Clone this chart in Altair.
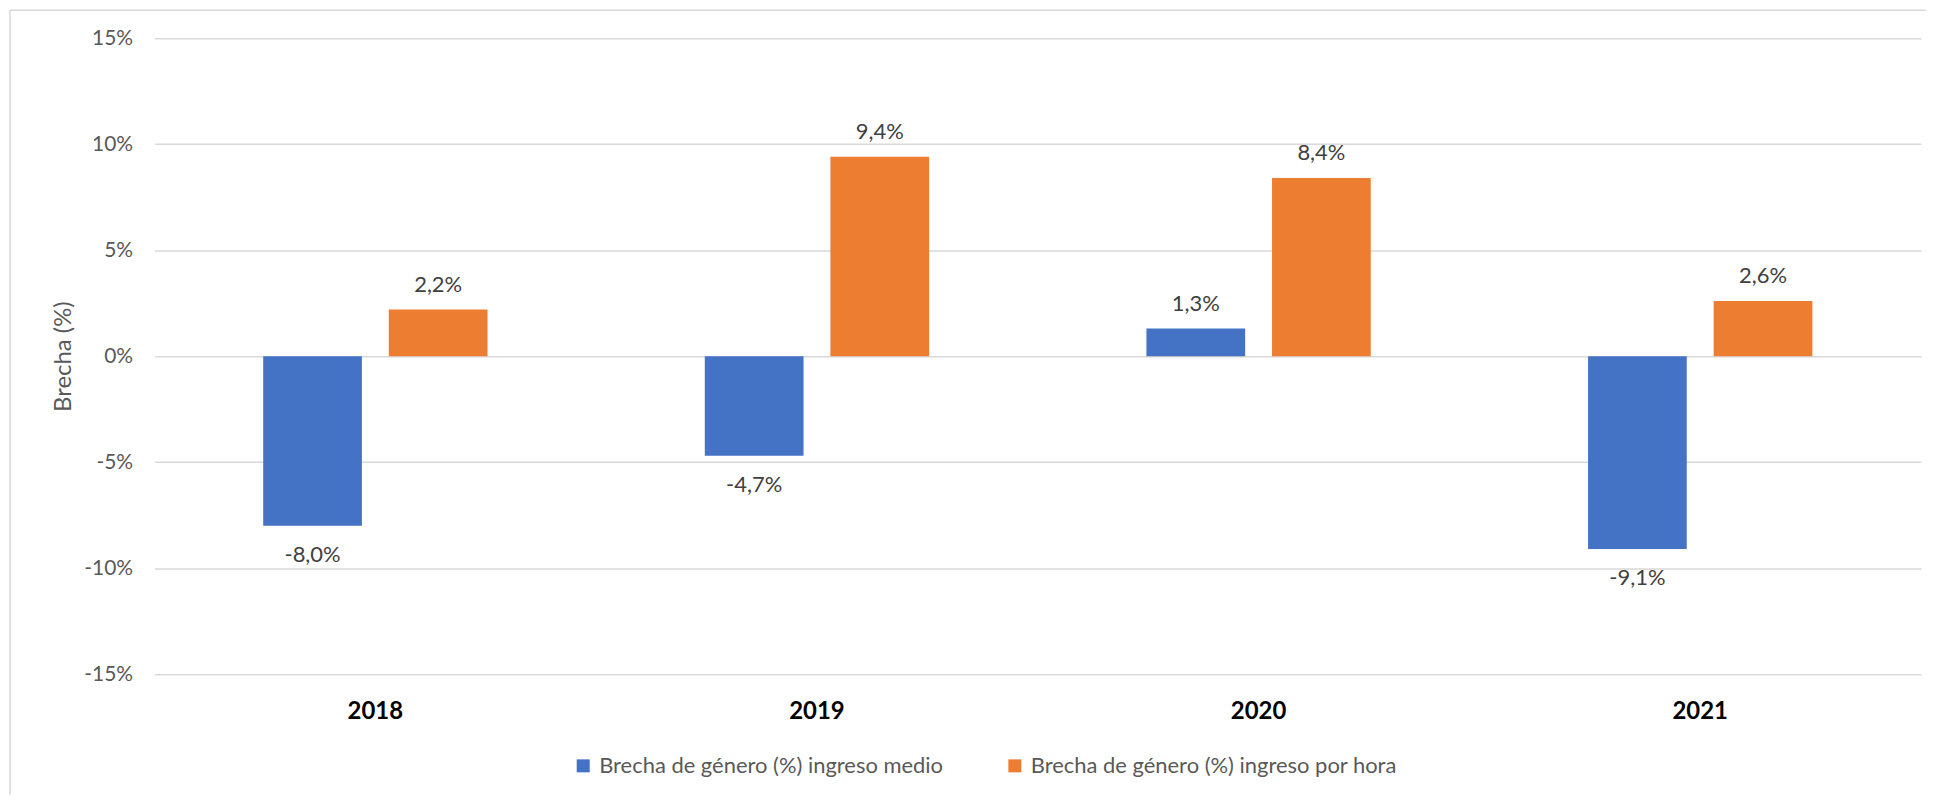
import altair as alt
import pandas as pd

years = ["2018", "2019", "2020", "2021"]
series = ["Brecha de género (%) ingreso medio", "Brecha de género (%) ingreso por hora"]
medio = [-8.0, -4.7, 1.3, -9.1]
por_hora = [2.2, 9.4, 8.4, 2.6]
colors = ["#4472C4", "#ED7D31"]
y_ticks = [-15, -10, -5, 0, 5, 10, 15]

rows = []
for i, y in enumerate(years):
    for s, vals in zip(series, [medio, por_hora]):
        v = vals[i]
        rows.append({"year": y, "series": s, "value": v,
                     "label": f"{v:.1f}%".replace(".", ",")})
df = pd.DataFrame(rows)

FONT = "Lato"
W, H = 1772, 638

x_enc = alt.X("year:N", sort=years, title=None,
              scale=alt.Scale(paddingInner=0, paddingOuter=0),
              axis=alt.Axis(labelAngle=0, labelFont=FONT, labelFontSize=24,
                            labelFontWeight="bold", labelColor="#000000",
                            ticks=False, tickSize=0, domain=False,
                            labelPadding=37, labelBaseline="middle"))
xo_enc = alt.XOffset("series:N", sort=series,
                     scale=alt.Scale(paddingInner=0.214, paddingOuter=0.865))
y_enc = alt.Y("value:Q",
              scale=alt.Scale(domain=[-15, 15], nice=False),
              axis=alt.Axis(title="Brecha (%)", values=y_ticks,
                            labelExpr="datum.value + '%'",
                            labelFont=FONT, labelFontSize=21, labelColor="#595959",
                            labelPadding=22, ticks=False, tickSize=0, domain=False,
                            grid=True, gridColor="#D9D9D9", gridWidth=1.5,
                            titleFont=FONT, titleFontSize=24, titleFontWeight="normal",
                            titleColor="#595959", titlePadding=8))

base = alt.Chart(df).encode(x=x_enc, xOffset=xo_enc, y=y_enc)

bars = base.mark_bar().encode(
    color=alt.Color("series:N", sort=series,
                    scale=alt.Scale(domain=series, range=colors),
                    legend=alt.Legend(title=None, orient="none", legendX=419, legendY=719,
                                      direction="horizontal", symbolType="square",
                                      symbolSize=170, symbolStrokeWidth=0,
                                      labelFont=FONT, labelFontSize=22, labelLimit=0,
                                      labelColor="#595959", columnPadding=60,
                                      labelOffset=5))
)

pos_text = base.transform_filter("datum.value >= 0").mark_text(
    font=FONT, fontSize=22, color="#404040", baseline="middle", dy=-25
).encode(text="label:N")

neg_text = base.transform_filter("datum.value < 0").mark_text(
    font=FONT, fontSize=22, color="#404040", baseline="middle", dy=29
).encode(text="label:N")

border = alt.Chart(alt.Data(values=[{"a": 1}])).mark_rect(
    fillOpacity=0, stroke="#D9D9D9", strokeWidth=1.5
).encode(x=alt.value(-145), x2=alt.value(W + 100),
         y=alt.value(-28), y2=alt.value(H + 300))

chart = alt.layer(border, bars, pos_text, neg_text).properties(
    width=W, height=H,
    padding={"left": 147, "top": 29, "right": 5, "bottom": 120},
    autosize=alt.AutoSizeParams(type="none"),
).configure_view(strokeWidth=0)

chart.save("out.html", embed_options={"renderer": "svg", "actions": False})
